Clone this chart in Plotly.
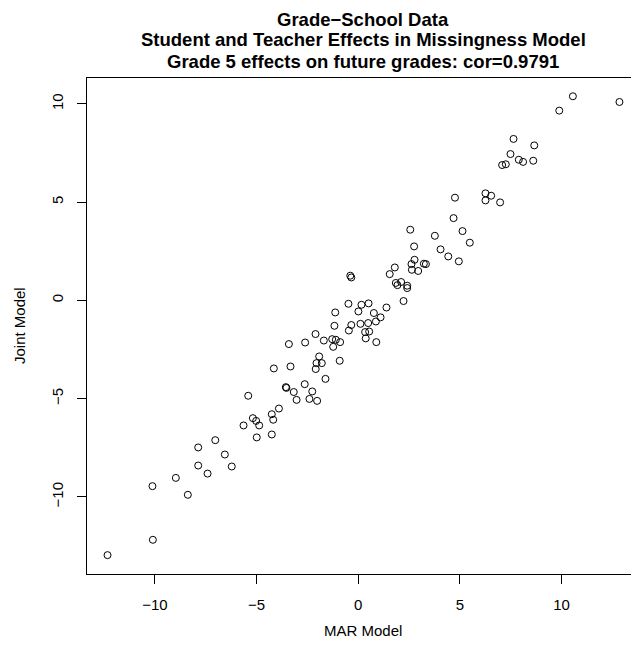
import plotly.graph_objects as go

# MAR model estimates (x) and joint model estimates (y)
mar_model = [
    10.56, 9.89, 12.85, 7.64, 8.66, 7.49, 7.90, 8.11, 8.61, 7.08, 7.26,
    4.76, 6.26, 6.54, 6.26, 6.98, 4.69, 2.56, 5.13, 3.77, 5.49, 2.75, 4.05,
    4.43, 4.95, 2.77, 2.62, 2.64, 2.95, 3.23, 3.33, 1.80, 1.55, -0.39, -0.34,
    1.85, 1.93, 2.11, 2.41, 2.41, 2.23, 1.39, -1.13, -0.48, 0.16, 0.51, 0.01,
    0.77, 1.10,
    -0.34, -0.46, 0.11, 0.49, 0.87, 0.34, 0.54, 0.37, 0.89, -0.89,
    -1.17, -2.10, -3.41, -2.61, -1.69, -1.28, -1.10, -1.23, -1.92, -2.05,
    -1.79, -2.09, -0.91, -1.61, -3.33, -4.15, -2.63, -3.56, -3.53, -3.17,
    -2.26, -3.03, -2.40, -2.02, -5.41, -3.90, -4.25, -4.18, -5.18, -5.02,
    -4.87, -5.64, -4.25, -4.99, -7.03, -7.87,
    -6.56, -7.87, -6.22, -7.41, -8.97, -10.12, -8.38, -10.10, -12.33,
]
joint_model = [
    10.39, 9.66, 10.10, 8.22, 7.89, 7.45, 7.16, 7.05, 7.11, 6.89, 6.93,
    5.23, 5.45, 5.33, 5.09, 4.99, 4.19, 3.60, 3.53, 3.29, 2.94, 2.75, 2.60,
    2.24, 1.99, 2.07, 1.85, 1.56, 1.50, 1.87, 1.85, 1.68, 1.34, 1.26, 1.17,
    0.89, 0.78, 0.94, 0.75, 0.63, -0.03, -0.36, -0.61, -0.17, -0.22, -0.15,
    -0.56, -0.64, -0.86,
    -1.25, -1.53, -1.19, -1.15, -1.07, -1.61, -1.58, -1.93, -2.12, -2.12,
    -1.29, -1.71, -2.22, -2.14, -2.04, -1.97, -2.00, -2.36, -2.85, -3.19,
    -3.19, -3.49, -3.07, -3.99, -3.36, -3.46, -4.26, -4.41, -4.45, -4.66,
    -4.63, -5.06, -5.01, -5.11, -4.85, -5.50, -5.79, -6.07, -5.99, -6.13,
    -6.36, -6.36, -6.82, -6.97, -7.11, -7.48,
    -7.84, -8.40, -8.45, -8.81, -9.03, -9.45, -9.89, -12.18, -12.96,
]

tick_values = [-10, -5, 0, 5, 10]
tick_labels = ["\u221210", "\u22125", "0", "5", "10"]

title_lines = [
    "Grade\u2212School Data",
    "Student and Teacher Effects in Missingness Model",
    "Grade 5 effects on future grades: cor=0.9791",
]
x_title = "MAR Model"
y_title = "Joint Model"

FONT = "Liberation Sans, Arial, Helvetica, sans-serif"

W, H = 631, 652
L, R, T, B = 87, 0, 78, 78
PW, PH = W - L - R, H - T - B


def px_x(px):
    return (px - L) / PW


def px_y(py):
    return (H - B - py) / PH


fig = go.Figure(
    go.Scatter(
        x=mar_model,
        y=joint_model,
        mode="markers",
        marker=dict(symbol="circle-open", size=7, color="black",
                    line=dict(width=1, color="black")),
        hoverinfo="x+y",
    )
)

annotations = []
for i, line in enumerate(title_lines):
    annotations.append(dict(
        text="<b>" + line + "</b>",
        xref="paper", yref="paper",
        x=px_x(363), y=px_y(19 + 21 * i),
        xanchor="center", yanchor="middle",
        showarrow=False,
        font=dict(family=FONT, size=18.5, color="black"),
    ))
annotations.append(dict(
    text=x_title, xref="paper", yref="paper",
    x=px_x(363), y=px_y(630), xanchor="center", yanchor="middle",
    showarrow=False, font=dict(family=FONT, size=15, color="black"),
))
annotations.append(dict(
    text=y_title, xref="paper", yref="paper",
    x=px_x(19), y=0.5, xanchor="center", yanchor="middle",
    textangle=-90, showarrow=False,
    font=dict(family=FONT, size=15, color="black"),
))

fig.update_layout(
    width=W,
    height=H,
    margin=dict(l=L, r=R, t=T, b=B),
    paper_bgcolor="white",
    plot_bgcolor="white",
    showlegend=False,
    font=dict(family=FONT, size=15, color="black"),
    annotations=annotations,
)

fig.update_xaxes(
    range=[-13.34, -13.34 + PW / 20.33],
    tickvals=tick_values,
    ticktext=tick_labels,
    ticks="outside",
    ticklen=9,
    tickwidth=1,
    tickcolor="black",
    ticklabelstandoff=8,
    showline=True,
    linecolor="black",
    linewidth=1,
    mirror=True,
    showgrid=False,
    zeroline=False,
    tickfont=dict(family=FONT, size=15, color="black"),
)

fig.update_yaxes(
    range=[-13.92, 11.32],
    tickvals=tick_values,
    ticktext=tick_labels,
    tickangle=-90,
    ticks="outside",
    ticklen=9,
    tickwidth=1,
    tickcolor="black",
    ticklabelstandoff=8,
    showline=True,
    linecolor="black",
    linewidth=1,
    mirror=False,
    showgrid=False,
    zeroline=False,
    tickfont=dict(family=FONT, size=15, color="black"),
)

fig.write_html("out.html")
